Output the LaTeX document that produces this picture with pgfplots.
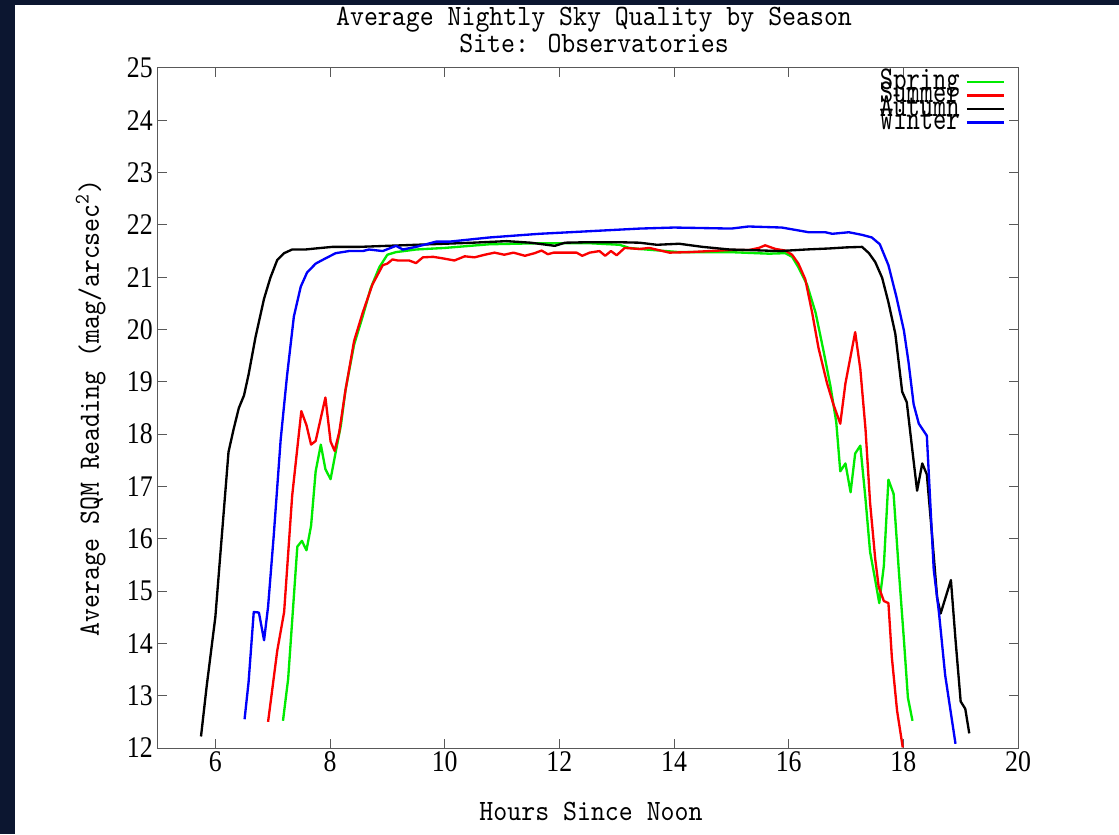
\documentclass[border=0pt]{standalone}
\usepackage{pgfplots}
\pgfplotsset{compat=1.18}
\usepackage{fontspec}
\newfontfamily\gfont[FakeStretch=0.90]{lmmono10-regular.otf}
\newfontfamily\lfont[FakeStretch=0.76]{lmmono10-regular.otf}
\newfontfamily\tfont[FakeStretch=0.86]{Liberation Serif}
\definecolor{sgreen}{RGB}{0,235,0}
\definecolor{sred}{RGB}{250,0,0}
\definecolor{sblue}{RGB}{0,0,250}
\definecolor{navy}{RGB}{12,22,48}
\setlength{\lineskiplimit}{-100pt}

\begin{document}
\begin{tikzpicture}
\fill[white] (-94.8pt,-51.6pt) rectangle (576.6pt,448.8pt);
\fill[navy] (-94.8pt,-51.6pt) rectangle (-85.8pt,448.8pt);
\fill[navy] (-94.8pt,445.8pt) rectangle (576.6pt,448.8pt);
\begin{axis}[
  at={(0,0)}, anchor=south west,
  scale only axis, width=516pt, height=408pt,
  xmin=5, xmax=20, ymin=12, ymax=25,
  xtick={6,8,...,20}, ytick={12,13,...,25},
  tick align=inside, tick pos=both, major tick length=5.4pt,
  axis line style={black!65, line width=0.6pt},
  every tick/.style={black!65, line width=0.6pt},
  /pgf/number format/assume math mode=true,
  tick label style={font=\tfont\fontsize{18}{18}\selectfont},
  yticklabel style={inner sep=1pt, xshift=-2pt},
  xticklabel style={inner sep=1pt, yshift=-1pt},
  title={Average Nightly Sky Quality by Season\\Site: Observatories},
  title style={at={(axis description cs:0.507,1)}, anchor=south, align=center,
    inner sep=0pt, yshift=3pt,
    font=\gfont\fontsize{17.7}{16}\selectfont},
  xlabel={Hours Since Noon},
  xlabel style={at={(axis description cs:0.5035,-0.1059)}, anchor=base, inner sep=0pt,
    font=\gfont\fontsize{17.7}{17.7}\selectfont},
  ylabel={Average SQM Reading (mag/arcsec\textsuperscript{2})},
  ylabel style={at={(axis description cs:-0.0686,0.5)}, anchor=base, inner sep=0pt,
    font=\gfont\fontsize{17.7}{17.7}\selectfont},
  legend style={at={(rel axis cs:0.985,0.99)}, anchor=north east, draw=none, fill=none,
    font=\lfont\fontsize{20}{20}\selectfont, inner sep=0pt, row sep=-0.3pt,
    column sep=3.6pt,
    nodes={inner sep=0pt, text height=8.4pt, text depth=0pt}},
  legend plot pos=right, legend cell align=right,
  legend image code/.code={\draw[#1, line width=1.4pt] (0pt,0pt) -- (22pt,0pt);},
  every axis plot/.append style={line width=1.4pt, line join=round, mark=none},
]
\addplot[sgreen] coordinates {
(7.18,12.52) (7.27,13.32) (7.43,15.85) (7.51,15.96) (7.59,15.78) (7.67,16.25)
(7.75,17.29) (7.84,17.80) (7.92,17.33) (8.01,17.14) (8.10,17.66) (8.19,18.17)
(8.27,18.84) (8.42,19.71) (8.57,20.25) (8.71,20.79) (8.86,21.19) (9.00,21.43)
(9.15,21.48) (9.50,21.53) (10.00,21.56) (10.78,21.63) (11.65,21.65) (12.53,21.65)
(13.05,21.62) (13.22,21.56) (13.40,21.54) (14.09,21.48) (14.97,21.48) (15.66,21.45)
(15.94,21.46) (16.06,21.39) (16.17,21.19) (16.32,20.86) (16.47,20.32) (16.61,19.58)
(16.73,18.91) (16.83,18.23) (16.90,17.29) (16.99,17.44) (17.08,16.89) (17.16,17.63)
(17.25,17.78) (17.34,16.76) (17.42,15.75) (17.51,15.21) (17.58,14.77) (17.66,15.48)
(17.74,17.13) (17.83,16.86) (17.92,15.41) (18.01,14.07) (18.08,12.96) (18.16,12.52)
};
\addlegendentry{Spring}
\addplot[sred] coordinates {
(6.92,12.50) (7.08,13.86) (7.20,14.60) (7.34,16.82) (7.50,18.44) (7.59,18.17)
(7.67,17.80) (7.75,17.87) (7.92,18.70) (8.01,17.86) (8.08,17.68) (8.16,18.03)
(8.27,18.84) (8.42,19.78) (8.57,20.32) (8.74,20.86) (8.92,21.23) (9.00,21.26)
(9.09,21.34) (9.18,21.32) (9.38,21.32) (9.50,21.27) (9.62,21.38) (9.80,21.39)
(9.97,21.36) (10.17,21.32) (10.35,21.40) (10.52,21.38) (10.70,21.43) (10.87,21.47)
(11.04,21.43) (11.20,21.47) (11.40,21.41) (11.57,21.46) (11.69,21.51) (11.80,21.44)
(11.90,21.47) (12.30,21.47) (12.40,21.41) (12.53,21.47) (12.70,21.50) (12.80,21.41)
(12.90,21.50) (13.00,21.42) (13.14,21.56) (13.40,21.54) (13.57,21.56) (13.92,21.47)
(14.27,21.48) (14.62,21.50) (14.97,21.52) (15.31,21.52) (15.48,21.56) (15.59,21.61)
(15.77,21.54) (15.94,21.51) (16.06,21.43) (16.17,21.26) (16.29,20.96) (16.41,20.32)
(16.52,19.65) (16.67,18.97) (16.78,18.57) (16.90,18.20) (16.99,18.97) (17.16,19.95)
(17.25,19.24) (17.34,18.10) (17.42,16.69) (17.51,15.61) (17.57,15.08) (17.66,14.81)
(17.74,14.77) (17.80,13.73) (17.89,12.72) (17.99,12.01)
};
\addlegendentry{Summer}
\addplot[black] coordinates {
(5.75,12.22) (5.85,13.19) (6.00,14.50) (6.23,17.66) (6.32,18.10) (6.41,18.50)
(6.50,18.74) (6.58,19.14) (6.70,19.85) (6.85,20.59) (6.96,20.99) (7.08,21.33)
(7.20,21.46) (7.34,21.53) (7.57,21.53) (7.75,21.55) (8.04,21.58) (8.50,21.58)
(9.00,21.60) (9.50,21.62) (10.00,21.64) (10.49,21.66) (11.08,21.69) (11.50,21.66)
(11.92,21.60) (12.10,21.66) (12.53,21.67) (13.00,21.67) (13.40,21.66) (13.70,21.62)
(14.09,21.64) (14.50,21.58) (14.97,21.53) (15.30,21.52) (15.84,21.50) (16.30,21.53)
(16.71,21.55) (17.00,21.57) (17.28,21.58) (17.40,21.46) (17.51,21.29) (17.63,20.99)
(17.74,20.52) (17.86,19.92) (17.98,18.81) (18.06,18.61) (18.15,17.76) (18.24,16.92)
(18.33,17.44) (18.41,17.23) (18.50,16.08) (18.59,14.87) (18.65,14.57) (18.83,15.21)
(18.91,14.07) (19.00,12.89) (19.08,12.75) (19.15,12.28)
};
\addlegendentry{Autumn}
\addplot[sblue] coordinates {
(6.51,12.55) (6.58,13.26) (6.67,14.60) (6.76,14.59) (6.85,14.06) (6.92,14.70)
(7.02,16.08) (7.14,17.90) (7.25,19.11) (7.37,20.25) (7.49,20.82) (7.60,21.09)
(7.75,21.26) (7.92,21.36) (8.10,21.46) (8.33,21.50) (8.57,21.50) (8.68,21.53)
(8.92,21.50) (9.15,21.60) (9.27,21.53) (9.50,21.58) (9.85,21.68) (10.08,21.68)
(10.78,21.76) (11.65,21.83) (12.53,21.88) (13.40,21.93) (14.00,21.95) (14.50,21.94)
(15.00,21.93) (15.30,21.97) (15.88,21.95) (16.35,21.86) (16.64,21.86) (16.76,21.83)
(17.05,21.86) (17.28,21.81) (17.45,21.76) (17.59,21.63) (17.74,21.23) (17.88,20.62)
(18.01,19.98) (18.09,19.38) (18.18,18.57) (18.27,18.20) (18.41,17.97) (18.47,16.69)
(18.53,15.41) (18.62,14.60) (18.73,13.39) (18.91,12.08)
};
\addlegendentry{Winter}
\end{axis}
\pgfresetboundingbox
\useasboundingbox (-94.8pt,-51.6pt) rectangle (576.6pt,448.8pt);
\end{tikzpicture}
\end{document}
